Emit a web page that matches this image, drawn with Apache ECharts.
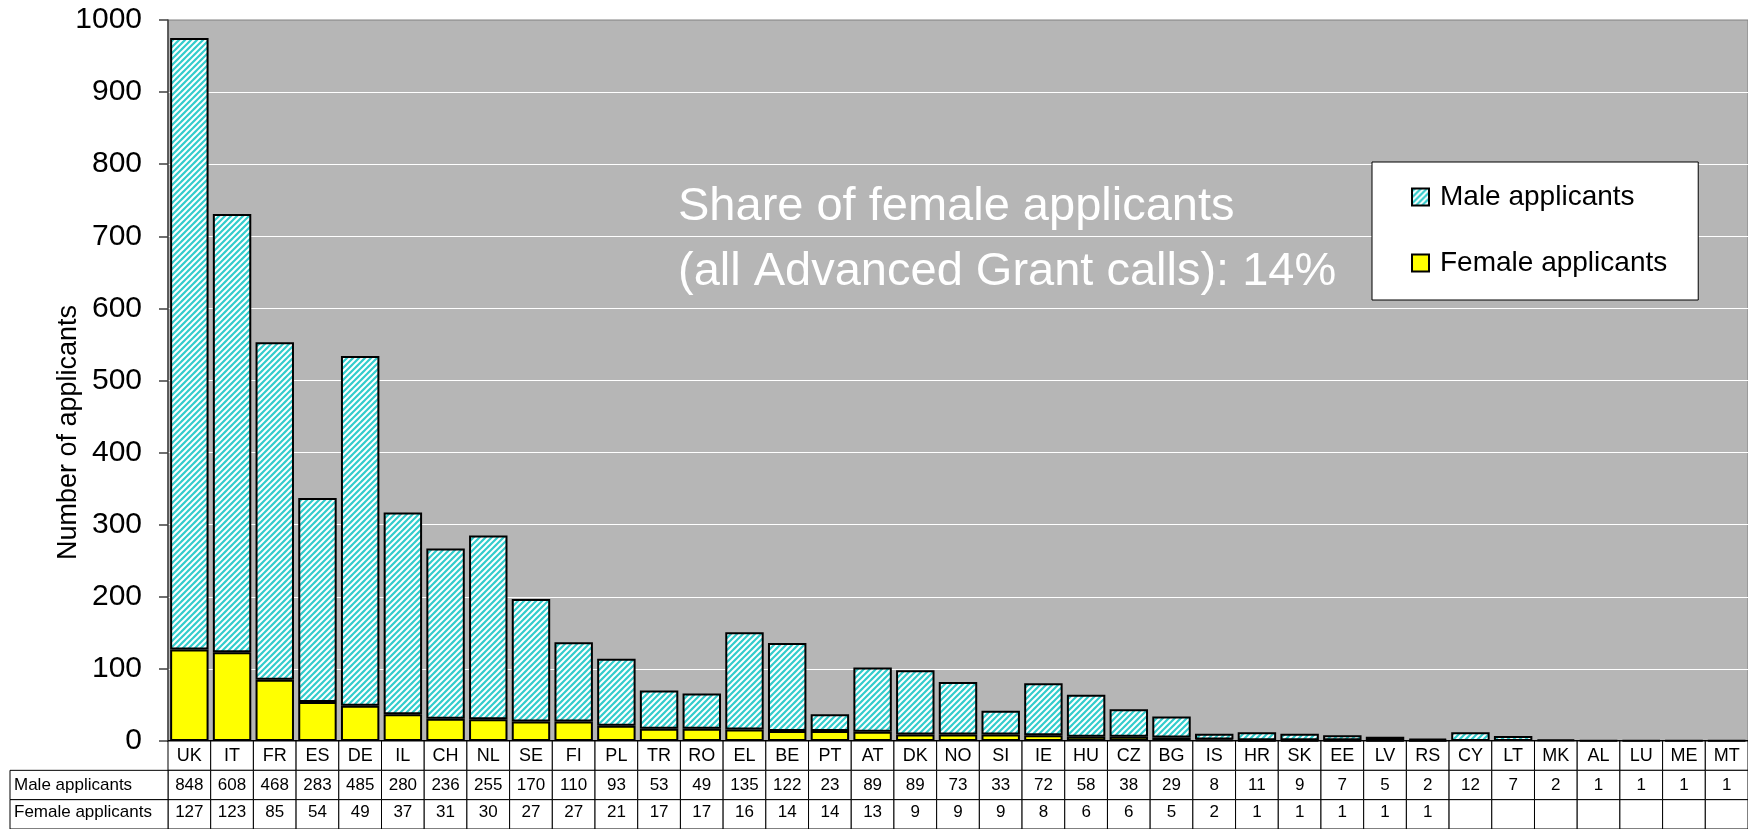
<!DOCTYPE html>
<html>
<head>
<meta charset="utf-8">
<script src="https://cdn.jsdelivr.net/npm/echarts@6/dist/echarts.min.js"></script>
<style>
html,body{margin:0;padding:0;background:#fff;}
#chart{width:1748px;height:829px;}
</style>
</head>
<body>
<div id="chart"></div>
<script>
// ---- Data ----
const countries = ['UK','IT','FR','ES','DE','IL','CH','NL','SE','FI','PL','TR','RO','EL','BE','PT','AT','DK','NO','SI','IE','HU','CZ','BG','IS','HR','SK','EE','LV','RS','CY','LT','MK','AL','LU','ME','MT'];
const maleApplicants = [848,608,468,283,485,280,236,255,170,110,93,53,49,135,122,23,89,89,73,33,72,58,38,29,8,11,9,7,5,2,12,7,2,1,1,1,1];
const femaleApplicants = [127,123,85,54,49,37,31,30,27,27,21,17,17,16,14,14,13,9,9,9,8,6,6,5,2,1,1,1,1,1,null,null,null,null,null,null,null];
const seriesNames = ['Male applicants','Female applicants'];
const yAxisName = 'Number of applicants';
const noteText = 'Share of female applicants\n(all Advanced Grant calls): 14%';

const FONT = '"Liberation Sans", Arial, sans-serif';

function makeHatch(){
  const s = 6;
  const c = document.createElement('canvas');
  c.width = s; c.height = s;
  const ctx = c.getContext('2d');
  ctx.fillStyle = '#33CCCC';
  ctx.fillRect(0,0,s,s);
  ctx.strokeStyle = '#ffffff';
  ctx.lineWidth = 2;
  ctx.beginPath();
  ctx.moveTo(0,s); ctx.lineTo(s,0);
  ctx.moveTo(-s/2,s/2); ctx.lineTo(s/2,-s/2);
  ctx.moveTo(s/2,s*1.5); ctx.lineTo(s*1.5,s/2);
  ctx.stroke();
  return c;
}

const chart = echarts.init(document.getElementById('chart'), null, {renderer:'canvas'});

const tableData = countries.map((c,i)=>[i]);

const option = {
  animation: false,
  backgroundColor: '#ffffff',
  textStyle: {fontFamily: FONT},
  grid: [
    {left:168, right:-2, top:20, bottom:88, show:true, backgroundColor:'#B6B6B6', borderColor:'#808080', borderWidth:1, containLabel:false},
    {left:168, right:-2, top:741, height:93, show:false}
  ],
  legend: {
    data: seriesNames,
    orient: 'vertical',
    left: 1372, top: 162,
    backgroundColor: '#ffffff',
    borderColor: '#000000',
    borderWidth: 1,
    padding: [21, 31, 23, 39],
    itemGap: 38,
    itemWidth: 17, itemHeight: 17,
    icon: 'rect',
    textStyle: {fontFamily: FONT, fontSize: 28, color:'#000', padding:[0,0,0,6]}
  },
  xAxis: [
    {type:'category', gridIndex:0, data:countries,
     axisLine:{show:true, lineStyle:{color:'#000', width:2}},
     axisTick:{show:false}, axisLabel:{show:false}, splitLine:{show:false}},
    {type:'category', gridIndex:1, data:countries, show:false}
  ],
  yAxis: [
    {type:'value', gridIndex:0, min:0, max:1000, interval:100,
     name: yAxisName, nameLocation:'middle', nameRotate:90, nameGap:86, nameMoveOverlap:false,
     nameTextStyle:{fontFamily:FONT, fontSize:27, color:'#000', padding:[0,104,0,0]},
     axisLine:{show:true, lineStyle:{color:'#404040', width:1.5}},
     axisTick:{show:true, length:9, inside:false, lineStyle:{color:'#404040', width:1.5}},
     axisLabel:{fontFamily:FONT, fontSize:30, color:'#000', margin:26, formatter:function(v){return String(v);}},
     splitLine:{show:true, showMaxLine:false, lineStyle:{color:'#ffffff', width:1}}},
    {type:'value', gridIndex:1, min:0, max:3, inverse:true, show:false}
  ],
  graphic: [
    {type:'text', left:678, top:175, z:10,
     style:{text:noteText, fill:'#ffffff', font:'47px ' + FONT, lineHeight:65}}
  ],
  series: [
    {name:seriesNames[1], type:'bar', stack:'total', xAxisIndex:0, yAxisIndex:0,
     data: femaleApplicants, barCategoryGap:'10%',
     itemStyle:{color:'#FFFF00', borderColor:'#000', borderWidth:2}},
    {name:seriesNames[0], type:'bar', stack:'total', xAxisIndex:0, yAxisIndex:0,
     data: maleApplicants, barCategoryGap:'10%',
     itemStyle:{color:{image:makeHatch(), repeat:'repeat'}, borderColor:'#000', borderWidth:2}},
    {type:'custom', xAxisIndex:1, yAxisIndex:1, clip:false, silent:true,
     data: tableData,
     renderItem: function(params, api){
       const i = params.dataIndex;
       const w = api.size([1,0])[0];
       const cx = api.coord([i,0])[0];
       const x0 = cx - w/2;
       const ys = [0,1,2,3].map(r=>api.coord([i,r])[1]);
       const children = [];
       const texts = [countries[i], String(maleApplicants[i]), femaleApplicants[i]==null?'':String(femaleApplicants[i])];
       for(let r=0;r<3;r++){
         children.push({type:'rect', shape:{x:x0, y:ys[r], width:w, height:ys[r+1]-ys[r]},
           style:{fill:'#fff', stroke:'#000', lineWidth:1}});
         children.push({type:'text', x:cx, y:(ys[r]+ys[Math.min(r+1,3)])/2 - (r===2?2:0),
           style:{text:texts[r], fill:'#000', font:(r===0?'18px ':'17px ') + FONT, align:'center', verticalAlign:'middle'}});
       }
       if(i===0){
         const lx = 10;
         const rowLabels = ['Male applicants','Female applicants'];
         for(let r=1;r<3;r++){
           children.push({type:'rect', shape:{x:lx, y:ys[r], width:x0-lx, height:ys[r+1]-ys[r]},
             style:{fill:'#fff', stroke:'#000', lineWidth:1}});
           children.push({type:'text', x:lx+4, y:(ys[r]+ys[r+1])/2 - (r===2?2:0),
             style:{text:rowLabels[r-1], fill:'#000', font:'17px ' + FONT, align:'left', verticalAlign:'middle'}});
         }
       }
       return {type:'group', children:children};
     }}
  ]
};
chart.setOption(option);
</script>
</body>
</html>
